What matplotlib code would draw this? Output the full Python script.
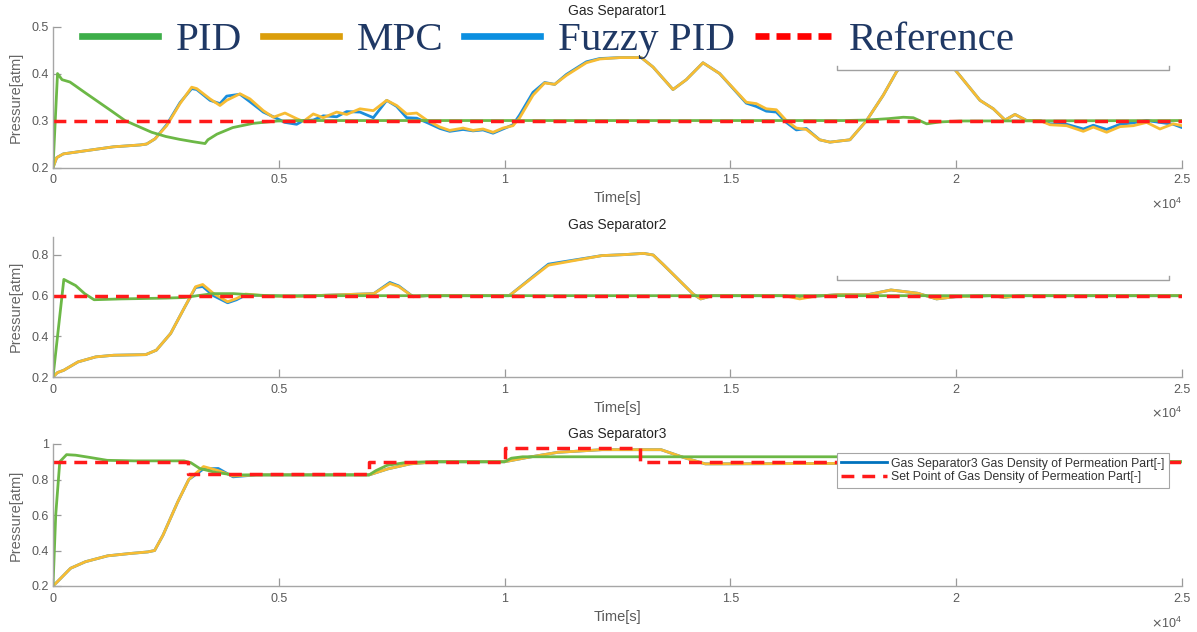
import matplotlib
matplotlib.use('Agg')
import matplotlib.pyplot as plt
from matplotlib.lines import Line2D
from matplotlib.patches import Rectangle
from matplotlib.ticker import FuncFormatter

plt.rcParams['font.family'] = ['Liberation Sans', 'DejaVu Sans']

# ---------------- data (time in s, pressure in atm) ----------------
# Gas Separator1
t_pid1 = [0, 100, 200, 376, 700, 1000, 1300, 1594, 1900, 2185, 2500, 2800, 3100, 3366, 3430, 3630,
          3980, 4430, 4970, 5500, 17500, 18016, 18500, 18828, 19050, 19345, 19640, 20083, 25000]
pid1 = [0.20, 0.400, 0.387, 0.382, 0.360, 0.340, 0.320, 0.300, 0.287, 0.275, 0.266, 0.260, 0.255, 0.251,
        0.259, 0.271, 0.285, 0.294, 0.299, 0.300, 0.300, 0.301, 0.304, 0.307, 0.306, 0.293, 0.297, 0.299, 0.300]

t_mpc1 = [0, 82, 229, 819, 1336, 1927, 2074, 2259, 2517, 2812, 3071, 3182, 3477, 3698, 3846, 4141, 4362,
          4657, 4878, 5137, 5395, 5543, 5764, 5985, 6281, 6503, 6798, 7093, 7389, 7610, 7832, 8053, 8275,
          8570, 8785, 9080, 9301, 9522, 9744, 9965, 10186, 10334, 10629, 10887, 11109, 11367, 11810, 12105,
          12548, 13027, 13286, 13729, 14024, 14393, 14762, 15352, 15574, 15795, 16017, 16238, 16460, 16681,
          16976, 17204, 17647, 18016, 18385, 18680, 19000, 19350, 19700, 20010, 20527, 20822, 21081, 21302,
          21560, 21855, 22077, 22446, 22815, 23037, 23332, 23627, 23922, 24217, 24512, 24808, 25000]
mpc1 = [0.200, 0.221, 0.229, 0.237, 0.244, 0.248, 0.250, 0.261, 0.289, 0.336, 0.371, 0.368, 0.346, 0.332,
        0.343, 0.357, 0.346, 0.321, 0.307, 0.316, 0.304, 0.298, 0.314, 0.306, 0.318, 0.313, 0.325, 0.321,
        0.343, 0.332, 0.314, 0.316, 0.301, 0.286, 0.279, 0.284, 0.279, 0.282, 0.275, 0.284, 0.289, 0.306,
        0.354, 0.380, 0.377, 0.396, 0.423, 0.431, 0.434, 0.434, 0.414, 0.366, 0.387, 0.423, 0.400, 0.339,
        0.336, 0.325, 0.323, 0.300, 0.284, 0.281, 0.259, 0.254, 0.259, 0.300, 0.354, 0.404, 0.440, 0.450,
        0.440, 0.404, 0.343, 0.325, 0.301, 0.313, 0.300, 0.300, 0.291, 0.289, 0.277, 0.286, 0.275, 0.287,
        0.289, 0.296, 0.282, 0.293, 0.289]
fuzzy1 = [0.200, 0.221, 0.229, 0.237, 0.244, 0.248, 0.250, 0.261, 0.291, 0.338, 0.368, 0.366, 0.343, 0.336,
          0.352, 0.356, 0.340, 0.318, 0.308, 0.296, 0.292, 0.300, 0.301, 0.310, 0.308, 0.319, 0.318, 0.306,
          0.343, 0.330, 0.306, 0.305, 0.296, 0.283, 0.277, 0.281, 0.278, 0.280, 0.273, 0.282, 0.291, 0.312,
          0.360, 0.381, 0.377, 0.398, 0.425, 0.432, 0.434, 0.434, 0.414, 0.366, 0.387, 0.423, 0.400, 0.337,
          0.330, 0.320, 0.318, 0.296, 0.280, 0.283, 0.259, 0.254, 0.259, 0.300, 0.354, 0.404, 0.440, 0.450,
          0.440, 0.404, 0.343, 0.325, 0.301, 0.313, 0.300, 0.300, 0.293, 0.292, 0.282, 0.290, 0.281, 0.292,
          0.295, 0.300, 0.296, 0.292, 0.285]
t_ref1 = [0, 25000]
ref1 = [0.3, 0.3]

# Gas Separator2
t_pid2 = [0, 100, 240, 500, 700, 910, 1500, 2500, 2920, 3200, 3550, 4000, 4400, 4800, 25000]
pid2 = [0.20, 0.40, 0.680, 0.650, 0.610, 0.580, 0.584, 0.588, 0.591, 0.600, 0.610, 0.610, 0.604, 0.600, 0.600]

t_mpc2 = [0, 100, 237, 552, 947, 1342, 2052, 2289, 2605, 2920, 3157, 3315, 3552, 3867, 4065, 4262, 4657,
          5288, 5762, 7103, 7459, 7656, 7972, 8287, 10103, 10971, 12152, 12658, 13079, 13290, 13500, 13837,
          14174, 14343, 14596, 16196, 16533, 16870, 17376, 18050, 18555, 19145, 19566, 19987, 20746, 21083,
          21420, 25000]
mpc2 = [0.200, 0.222, 0.233, 0.274, 0.299, 0.307, 0.310, 0.332, 0.414, 0.545, 0.644, 0.655, 0.611, 0.570,
        0.586, 0.608, 0.600, 0.595, 0.600, 0.610, 0.660, 0.645, 0.595, 0.600, 0.600, 0.750, 0.797, 0.802,
        0.808, 0.800, 0.756, 0.682, 0.608, 0.584, 0.600, 0.600, 0.584, 0.597, 0.605, 0.605, 0.628, 0.612,
        0.584, 0.595, 0.600, 0.592, 0.600, 0.600]
fuzzy2 = [0.200, 0.222, 0.233, 0.274, 0.299, 0.307, 0.310, 0.332, 0.414, 0.545, 0.640, 0.645, 0.600, 0.565,
          0.580, 0.603, 0.600, 0.595, 0.600, 0.610, 0.665, 0.648, 0.595, 0.600, 0.600, 0.755, 0.797, 0.802,
          0.808, 0.800, 0.756, 0.682, 0.608, 0.584, 0.600, 0.600, 0.590, 0.597, 0.605, 0.605, 0.628, 0.612,
          0.584, 0.595, 0.600, 0.592, 0.600, 0.600]
t_ref2 = [0, 25000]
ref2 = [0.6, 0.6]

# Gas Separator3
t_pid3 = [0, 60, 150, 300, 500, 800, 1200, 1800, 2900, 3050, 3250, 3600, 4000, 7000, 7150, 7400, 7800,
          8300, 10000, 10150, 10400, 20000, 20500, 25000]
pid3 = [0.20, 0.60, 0.90, 0.940, 0.937, 0.925, 0.908, 0.905, 0.905, 0.895, 0.862, 0.840, 0.826, 0.826,
        0.850, 0.880, 0.895, 0.900, 0.900, 0.920, 0.928, 0.928, 0.900, 0.900]

t_mpc3 = [0, 100, 390, 720, 1210, 1700, 2100, 2250, 2435, 2761, 3007, 3333, 3660, 3987, 4500, 7000, 7418,
          7908, 8500, 10000, 10523, 11176, 12157, 13464, 13954, 14444, 17000, 20000, 25000]
mpc3 = [0.200, 0.225, 0.300, 0.337, 0.370, 0.383, 0.392, 0.400, 0.486, 0.673, 0.800, 0.873, 0.850, 0.820,
        0.826, 0.826, 0.860, 0.888, 0.900, 0.900, 0.925, 0.953, 0.968, 0.968, 0.925, 0.888, 0.890, 0.895, 0.900]
fuzzy3 = [0.200, 0.225, 0.300, 0.337, 0.370, 0.383, 0.392, 0.400, 0.486, 0.673, 0.800, 0.860, 0.862, 0.815,
          0.826, 0.826, 0.860, 0.888, 0.900, 0.900, 0.925, 0.953, 0.968, 0.968, 0.925, 0.888, 0.890, 0.895, 0.900]
t_ref3 = [0, 3000, 7000, 10000, 13000, 25000]
ref3 = [0.90, 0.83, 0.90, 0.975, 0.90, 0.90]

titles = ['Gas Separator1', 'Gas Separator2', 'Gas Separator3']
ylims = [(0.2, 0.5), (0.2, 0.89), (0.2, 1.0)]
yticks = [[0.2, 0.3, 0.4, 0.5], [0.2, 0.4, 0.6, 0.8], [0.2, 0.4, 0.6, 0.8, 1.0]]
xticks = [0, 5000, 10000, 15000, 20000, 25000]
legend_labels = ['PID', 'MPC', 'Fuzzy PID', 'Reference']
legend3_labels = ['Gas Separator3 Gas Density of Permeation Part[-]',
                  'Set Point of Gas Density of Permeation Part[-]']

c_pid = '#6CB846'
c_mpc = '#F7BC33'
c_fuzzy = '#1B8EDB'
c_ref = '#FF1A1A'
dash = (3.7, 2.3)

fig = plt.figure(figsize=(11.97, 6.32), dpi=100)
W, H = 1197, 632
# axes boxes in pixels: left, right, top, bottom
boxes = [(53, 1182, 26.6, 167.5), (53, 1182, 236.7, 377), (53, 1182, 444, 586)]
pads = [8, 5.5, 4.5]

panels = [
    (t_pid1, pid1, t_mpc1, mpc1, fuzzy1, t_ref1, ref1),
    (t_pid2, pid2, t_mpc2, mpc2, fuzzy2, t_ref2, ref2),
    (t_pid3, pid3, t_mpc3, mpc3, fuzzy3, t_ref3, ref3),
]

axes = []
for i, (tp, vp, tm, vm, vf, tr, vr) in enumerate(panels):
    l, r, top, bot = boxes[i]
    ax = fig.add_axes([l / W, 1 - bot / H, (r - l) / W, (bot - top) / H])
    axes.append(ax)
    ax.plot(tm, vf, color=c_fuzzy, lw=2.0, zorder=2, solid_capstyle='round')
    ax.plot(tm, vm, color=c_mpc, lw=2.0, zorder=2.1, solid_capstyle='round')
    ax.plot(tp, vp, color=c_pid, lw=2.0, zorder=2.2, solid_capstyle='round')
    ax.plot(tr, vr, color=c_ref, lw=2.5, ls=(0, dash), drawstyle='steps-post', zorder=2.3)

    ax.set_xlim(0, 25000)
    ax.set_ylim(*ylims[i])
    ax.set_xticks(xticks)
    ax.set_yticks(yticks[i])
    ax.xaxis.set_major_formatter(FuncFormatter(lambda v, p: f'{v / 1e4:g}'))
    ax.yaxis.set_major_formatter(FuncFormatter(lambda v, p: f'{v:g}'))
    for s in ['top', 'right']:
        ax.spines[s].set_visible(False)
    for s in ['left', 'bottom']:
        ax.spines[s].set_color('#a6a6a6')
        ax.spines[s].set_linewidth(1.0)
    ax.tick_params(direction='in', length=5.5, width=0.9, color='#9a9a9a',
                   labelsize=9, labelcolor='#5a5a5a')
    ax.tick_params(axis='x', pad=5)
    ax.tick_params(axis='y', pad=3)
    ax.set_title(titles[i], fontsize=10, color='#262626', pad=pads[i])
    ax.set_xlabel('Time[s]', fontsize=10.5, color='#5a5a5a')
    ax.set_ylabel('Pressure[atm]', fontsize=10.5, color='#666666')
    ax.xaxis.set_label_coords(0.5, -0.17)
    ax.yaxis.set_label_coords(-0.027, 0.5)
    ax.text(1.0, -0.26, r'$\times\mathregular{10^{4}}$', transform=ax.transAxes,
            ha='right', va='center', fontsize=9, color='#5a5a5a')

# whited-out legend remnants in panels 1 and 2
bx0 = (837 - 53) / 1129
bx1 = (1169 - 53) / 1129
for ax, yb in [(axes[0], 0.69), (axes[1], 0.691)]:
    if ax is axes[0]:
        ax.add_patch(Rectangle((bx0, yb), bx1 - bx0, 1.02 - yb, transform=ax.transAxes,
                               facecolor='white', edgecolor='none', zorder=3, clip_on=False))
    ax.plot([bx0, bx0, bx1, bx1], [yb + 0.03, yb, yb, yb + 0.03], transform=ax.transAxes,
            color='#a0a0a0', lw=1.0, zorder=3.5)

# panel 3 legend
h3 = [Line2D([], [], color='#0072BD', lw=2.0),
      Line2D([], [], color=c_ref, lw=2.5, ls=(0, dash))]
leg3 = axes[2].legend(h3, legend3_labels, loc='upper left', bbox_to_anchor=(bx0, 0.934),
                      borderaxespad=0, fontsize=8.8, handlelength=3.7, handletextpad=0.4,
                      labelspacing=0.15, borderpad=0.35, fancybox=False, framealpha=1,
                      edgecolor='#a6a6a6', labelcolor='#333333')
leg3.get_frame().set_linewidth(0.8)

# big overlaid legend at top
hb = [Line2D([], [], color='#3DAE49', lw=4.8),
      Line2D([], [], color='#DB9E0B', lw=4.8),
      Line2D([], [], color='#0B8FE0', lw=4.8),
      Line2D([], [], color='#FF0000', lw=4.8, ls=(0, (2.1, 1.05)))]
fig.legend(hb, legend_labels, loc='center left', bbox_to_anchor=(82.4 / W, 1 - 40 / H), ncol=4,
           frameon=False, prop={'family': 'Liberation Serif', 'size': 29.5}, labelcolor='#1F3864',
           handlelength=1.85, handletextpad=0.44, columnspacing=0.5, borderpad=0, borderaxespad=0)

fig.savefig('out.png', dpi=100)
